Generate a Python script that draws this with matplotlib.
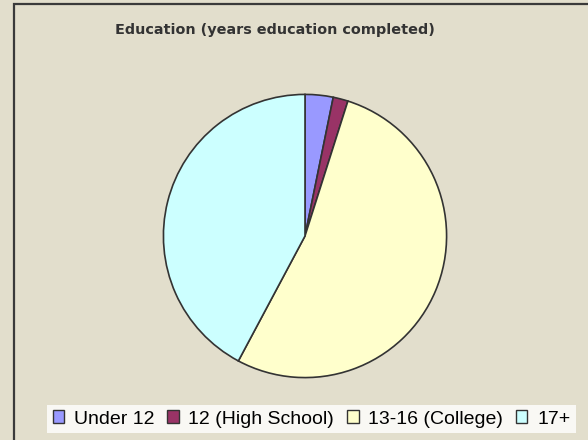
import matplotlib
matplotlib.use("Agg")
import matplotlib.pyplot as plt
from matplotlib.patches import Rectangle

# data
labels = ["Under 12", "12 (High School)", "13-16 (College)", "17+"]
values = [3.2, 1.7, 52.9, 42.2]
colors = ["#9999FF", "#993366", "#FFFFCC", "#CCFFFF"]

bg = "#E2DECC"

fig = plt.figure(figsize=(5.88, 4.40), dpi=100)
fig.patch.set_facecolor(bg)

# outer chart border (runs off the right and bottom edges)
fig.patches.append(Rectangle((13.5 / 588, -0.1), 1.2, 1.1 - 4.5 / 440,
                             transform=fig.transFigure, fill=False,
                             edgecolor="#3a3a3a", linewidth=1.6))

ax = fig.add_axes([162 / 588, (440 - 379) / 440, 286 / 588, 286 / 440])
ax.set_facecolor(bg)
wedges, _ = ax.pie(values, colors=colors, startangle=90, counterclock=False,
                   wedgeprops=dict(edgecolor="#333333", linewidth=1.2))
ax.set_xlim(-1.01, 1.01)
ax.set_ylim(-1.01, 1.01)
ax.set_aspect("equal")
ax.axis("off")

fig.text(275 / 588, 1 - 30 / 440, "Education (years education completed)",
         ha="center", va="center", fontsize=10.4, fontweight="bold",
         color="#333333", family="DejaVu Sans")

leg = fig.legend(wedges, labels, loc="center", bbox_to_anchor=(311.5 / 588, 1 - 419 / 440),
                 ncol=4, frameon=True, fancybox=False,
                 prop={"family": "Liberation Sans", "size": 14},
                 handlelength=0.6, handleheight=0.6, handletextpad=0.5,
                 columnspacing=0.65, borderpad=0.3)
leg.get_frame().set_facecolor("white")
leg.get_frame().set_edgecolor("white")
leg.get_frame().set_linewidth(0)
for h in leg.legend_handles:
    h.set_edgecolor("#333333")
    h.set_linewidth(1.0)

fig.savefig("out.png", dpi=100, facecolor=bg)
